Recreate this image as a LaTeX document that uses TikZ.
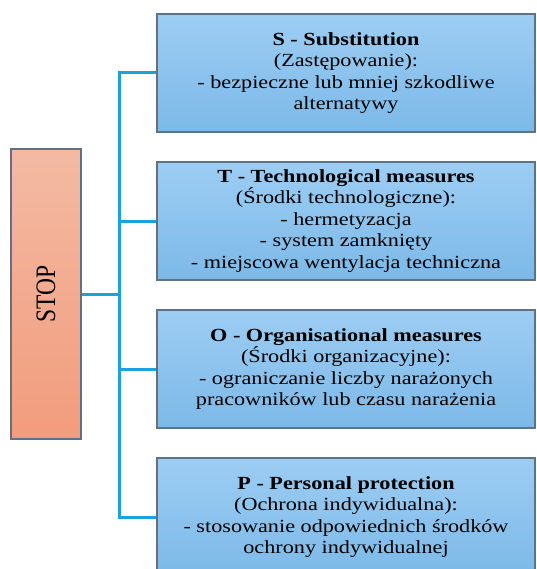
\documentclass[tikz,border=0pt]{standalone}
\usepackage{fontspec}
\setmainfont{Liberation Serif}[FakeStretch=1.2]
\newfontfamily\stopfont{Liberation Serif}
\definecolor{bluetop}{HTML}{9DCDF3}
\definecolor{bluebot}{HTML}{7CB9E8}
\definecolor{redtop}{HTML}{F3BAA3}
\definecolor{redbot}{HTML}{F29C7D}
\definecolor{edgegray}{HTML}{62717F}
\definecolor{linkblue}{HTML}{19A2DC}
\begin{document}
\begin{tikzpicture}[x=1pt,y=-1pt,
  blk/.style={draw=edgegray, line width=1.4pt, top color=bluetop, bottom color=bluebot,
    minimum width=378, minimum height=118, inner sep=0pt, align=center,
    font=\fontsize{18.5}{21.5}\selectfont},
  stopbox/.style={draw=edgegray, line width=1.4pt, top color=redtop, bottom color=redbot,
    minimum width=70, minimum height=290, inner sep=0pt},
  conn/.style={draw=linkblue, line width=3pt}]
\useasboundingbox (0,0) rectangle (536,569);
\clip (0,0) rectangle (536,569);
\node[stopbox] (stop) at (46,294) {};
\node[rotate=90, inner sep=0pt] (stoplbl) at (stop.center) {\scalebox{1}[1.2]{\stopfont\fontsize{23.5}{28}\selectfont STOP}};
\node[blk] (s) at (346,73) {{\bfseries S - Substitution}\\(Zastępowanie):\\- bezpieczne lub mniej szkodliwe\\alternatywy};
\node[blk] (t) at (346,221) {{\bfseries T - Technological measures}\\(Środki technologiczne):\\- hermetyzacja\\- system zamknięty\\- miejscowa wentylacja techniczna};
\node[blk] (o) at (346,369) {{\bfseries O - Organisational measures}\\(Środki organizacyjne):\\- ograniczanie liczby narażonych\\pracowników lub czasu narażenia};
\node[blk] (p) at (346,517) {{\bfseries P - Personal protection}\\(Ochrona indywidualna):\\- stosowanie odpowiednich środków\\ochrony indywidualnej};
\coordinate (trunk) at (119,0);
\draw[conn] (s.west) -- (s.west -| trunk) -- (p.west -| trunk) -- (p.west);
\draw[conn] (t.west) -- (t.west -| trunk);
\draw[conn] (o.west) -- (o.west -| trunk);
\draw[conn] (stop.east) -- (stop.east -| trunk);
\end{tikzpicture}
\end{document}
